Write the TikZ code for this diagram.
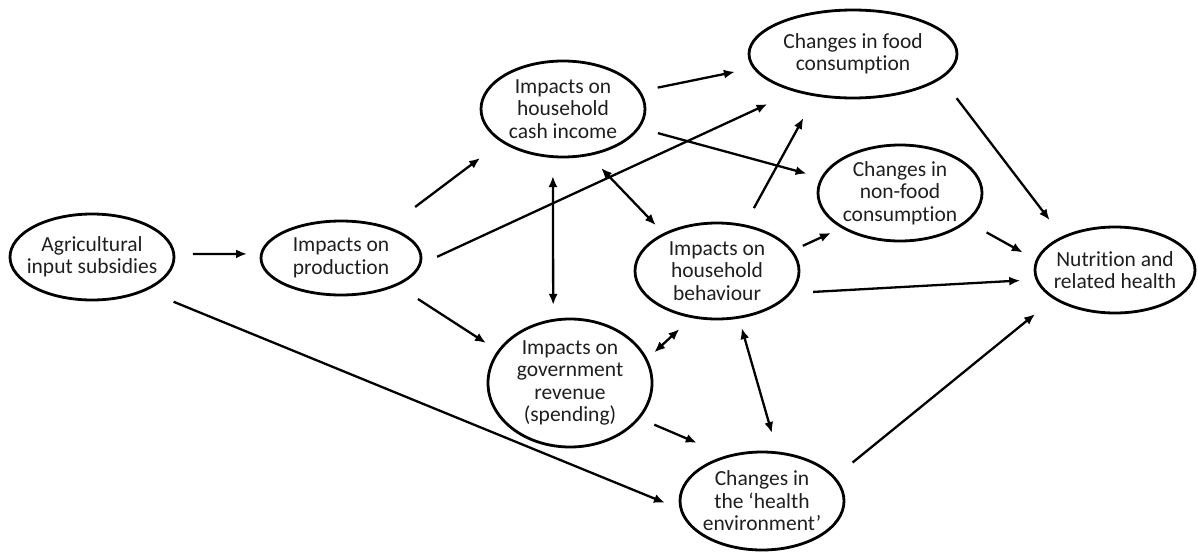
\documentclass[tikz,border=0pt]{standalone}
\usepackage{fontspec}
\setmainfont{Carlito}[Ligatures=NoCommon]
\usetikzlibrary{shapes.geometric,arrows.meta}

\begin{document}
\begin{tikzpicture}[x=1pt, y=-1pt,
        bubble/.style 2 args={draw, ellipse, line width=2.8pt, minimum width=#1, minimum height=#2,
            inner xsep=-8pt, inner ysep=0pt, outer sep=0pt, align=center, text=black!88,
            font=\fontsize{21.5}{22.5}\selectfont},
        link/.style={line width=2.3pt, -{Latex[length=11pt,width=9pt]}},
        both/.style={line width=2.3pt, {Latex[length=11pt,width=9pt]}-{Latex[length=11pt,width=9pt]}}]
        \fill [white] (0,0) rectangle (1198,551);
        \useasboundingbox (0,0) rectangle (1198,551);
        \node [bubble={164pt}{86pt}] (agri) at (92,257) {Agricultural\\input subsidies};
        \node [bubble={160pt}{74pt}] (prod) at (341,258) {Impacts on\\production};
        \node [bubble={164pt}{96pt}] (cash) at (563,109) {Impacts on\\household\\cash income};
        \node [bubble={208pt}{88pt}] (food) at (853,54) {Changes in food\\consumption};
        \node [bubble={164pt}{96pt}] (nonfood) at (900,193) {Changes in\\non-food\\consumption};
        \node [bubble={164pt}{96pt}] (behav) at (717,271) {Impacts on\\household\\behaviour};
        \node [bubble={160pt}{86pt}] (nutr) at (1115,270) {Nutrition and\\related health};
        \node [bubble={164pt}{128pt}] (gov) at (570,383) {Impacts on\\government\\revenue\\(spending)};
        \node [bubble={164pt}{98pt}] (health) at (762,501) {Changes in\\the ‘health\\environment’};
        \draw [link, shorten <=19pt, shorten >=14.5pt] (agri.2) -- (prod.177);
        \draw [link, shorten <=34.7pt, shorten >=27.8pt] (prod.33) -- (cash.208);
        \draw [link, shorten <=19.3pt, shorten >=31.6pt] (prod.355) -- (food.213);
        \draw [link, shorten <=26.1pt, shorten >=15.2pt] (prod.334) -- (gov.156);
        \draw [both, shorten <=19.4pt, shorten >=15.4pt] (cash.258) -- (gov.105);
        \draw [link, shorten <=18.8pt, shorten >=19.8pt] (cash.13) -- (food.188);
        \draw [link, shorten <=20.2pt, shorten >=16.1pt] (cash.346) -- (nonfood.169);
        \draw [both, shorten <=18.5pt, shorten >=12.5pt] (cash.299) -- (behav.145);
        \draw [link, shorten <=20.1pt, shorten >=26.1pt] (behav.59) -- (food.228);
        \draw [link, shorten <=12.4pt, shorten >=13.1pt] (behav.15) -- (nonfood.211);
        \draw [link, shorten <=23.5pt, shorten >=16.8pt] (behav.343) -- (nutr.187);
        \draw [link, shorten <=26pt, shorten >=21.7pt] (food.345) -- (nutr.148);
        \draw [link, shorten <=23.1pt, shorten >=16.3pt] (nonfood.337) -- (nutr.173);
        \draw [both, shorten <=10.7pt, shorten >=18.1pt] (gov.17) -- (behav.242);
        \draw [both, shorten <=11.2pt, shorten >=20.7pt] (behav.295) -- (health.72);
        \draw [link, shorten <=17pt, shorten >=34.3pt] (gov.333) -- (health.127);
        \draw [link, shorten <=31.2pt, shorten >=17.6pt] (agri.328) -- (health.186);
        \draw [link, shorten <=23.9pt, shorten >=25.1pt] (health.18) -- (nutr.205);
    \end{tikzpicture}
\end{document}
